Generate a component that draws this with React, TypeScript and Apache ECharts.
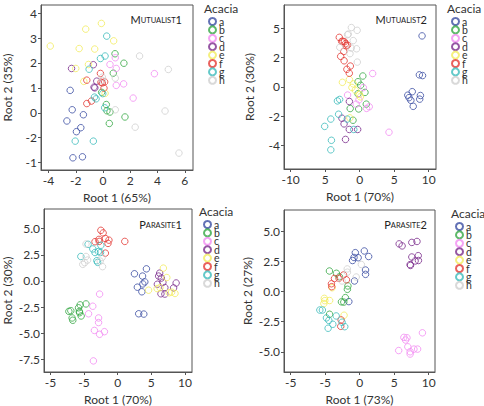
import React, { useEffect, useRef } from "react";
import * as echarts from "echarts";

const GROUPS = ["a", "b", "c", "d", "e", "f", "g", "h"];
const COLORS = ["#3b4ea3", "#35a843", "#f28cf2", "#7a2c8c", "#f3ec5e", "#e33a35", "#3cbcbc", "#cfcfcf"];
const FONT = "Lato";

// ---------- Mutualist1 ----------
const M1_A = [[-2.41, 0.9], [-2.26, 0.12], [-1.44, -0.08], [-2.65, -0.33], [-1.63, -0.6], [-1.95, -0.76], [-2.21, -1.81], [-1.51, -1.77]];
const M1_B = [[0.88, 2.37], [1.53, 1.99], [0.75, 1.59], [-0.1, 0.82], [0.24, 0.33], [0.29, 0.08], [0.51, 0.03], [1.61, -0.17], [0.46, -0.43]];
const M1_C = [[0.9, 2.21], [0.51, 1.94], [0.97, 1.78], [3.77, 1.57], [1.51, 1.16], [0.97, 1.1], [2.21, 0.59]];
const M1_D = [[-2.31, 1.78], [-0.71, 1.93], [-0.46, 1.27], [-0.66, 1.03], [-0.6, 1.0]];
const M1_E = [[-3.87, 2.68], [-1.27, 3.36], [-0.12, 3.59], [-1.75, 2.58], [-0.61, 2.56], [0.78, 2.89], [-1.07, 1.94], [-2.0, 1.78], [-1.41, 1.26], [0.15, 0.78]];
const M1_F = [[-0.19, 1.58], [-1.19, 1.31], [-0.15, 1.23], [0.12, 1.24], [-0.05, 1.2], [0.07, 0.99], [-0.85, 0.47], [-1.19, 0.37]];
const M1_G = [[0.27, 3.08], [-0.19, 2.18], [0.15, 2.28], [-1.02, 1.75], [-0.02, 0.77], [-0.63, 0.63], [-0.51, 0.56], [0.12, 0.2], [-2.04, -1.14], [-0.71, -1.14]];
const M1_H = [[2.68, 2.28], [4.79, 1.74], [-0.05, 1.43], [0.9, 1.39], [-0.05, 1.3], [0.9, 0.12], [4.55, 0.07], [2.36, -0.58], [5.57, -1.62]];

// ---------- Mutualist2 ----------
const M2_A = [[9.04, 3.48], [8.65, 0.82], [9.11, 0.77], [7.62, -0.33], [6.97, -0.57], [7.15, -0.74], [7.42, -0.92], [7.76, -1.33], [8.8, -0.59], [8.7, -0.84]];
const M2_B = [[0.46, 0.74], [-0.24, 0.35], [0.14, 0.11], [-0.24, -0.47], [0.77, -0.38], [0.96, -1.18], [-1.37, -1.48], [-0.14, -1.51], [-0.96, -2.28]];
const M2_C = [[1.88, 0.91], [0.53, -0.05], [-1.75, -0.56], [-0.1, -0.88], [-0.5, -1.18], [1.0, -1.47], [1.39, -1.36], [4.25, -3.1]];
const M2_D = [[-1.49, -1.0], [-2.57, -2.14], [-2.26, -2.53], [-1.5, -2.91], [-0.29, -2.91], [-2.05, -3.59]];
const M2_E = [[-2.5, 0.31], [-1.49, 0.5], [-0.92, 0.2], [-1.12, -0.04], [-0.63, -0.23], [-0.05, -0.52], [0.1, -0.68], [-1.42, -2.12]];
const M2_F = [[-2.95, 3.38], [-2.45, 3.12], [-2.2, 3.08], [-2.6, 3.1], [-2.05, 2.95], [-1.75, 2.85], [-1.95, 2.8], [-2.3, 2.42], [-2.75, 2.08], [-2.25, 1.78], [-1.35, 1.42], [-1.85, 1.2], [-1.5, 0.93]];
const M2_G = [[-3.22, -0.96], [-2.9, -0.86], [-3.05, -1.87], [-4.18, -2.2], [-5.07, -2.7], [-1.8, -2.2], [-0.85, -2.91], [-4.09, -3.65], [-4.18, -4.3]];
const M2_H = [[-1.2, 4.05], [-0.36, 3.86], [-1.75, 3.56], [-1.65, 3.6], [-0.93, 3.16], [-2.88, 2.7], [-1.22, 2.65], [-0.45, 2.6], [-1.4, 2.27], [-0.34, 1.69]];

// ---------- Parasite1 ----------
const P1_A = [[4.28, 1.16], [2.5, 0.69], [3.7, 0.47], [4.04, -0.09], [3.75, -0.28], [2.93, -0.59], [3.6, -1.03], [3.13, -3.13], [3.89, -3.16]];
const P1_B = [[-7.26, -2.9], [-6.97, -2.84], [-5.82, -2.56], [-5.58, -2.28], [-4.71, -2.19], [-5.67, -3.03], [-5.43, -3.34], [-6.78, -3.53], [-6.68, -3.75], [-5.7, -2.9]];
const P1_C = [[-2.69, -1.25], [-3.7, -2.41], [-4.33, -3.13], [-2.84, -3.53], [-2.84, -3.97], [-3.46, -4.72], [-2.69, -5.09], [-1.97, -4.84], [-3.61, -7.63]];
const P1_D = [[6.25, 0.75], [6.1, 0.47], [6.49, 0.28], [6.73, -0.12], [5.91, -0.31], [8.7, -0.19], [8.32, -0.66], [6.44, -1.22], [7.02, -1.25], [7.02, -0.63]];
const P1_E = [[6.8, 1.23], [7.31, 0.33], [4.6, -0.88], [5.87, -0.72], [6.3, -0.63], [7.67, -1.12], [8.03, -1.06], [8.53, -1.19]];
const P1_F = [[-2.5, 4.84], [-2.16, 4.59], [-2.79, 3.97], [-1.83, 4.06], [-1.3, 3.9], [-1.44, 3.59], [-2.75, 3.78], [-3.37, 3.75], [-1.83, 2.66], [1.06, 3.78]];
const P1_G = [[-4.4, 3.5], [-2.5, 3.41], [-3.7, 3.06], [-3.37, 2.72], [-2.88, 2.81], [-2.55, 2.72], [-5.48, 2.34], [-3.1, 1.94], [-2.98, 1.78]];
const P1_H = [[-4.71, 3.53], [-4.71, 2.34], [-4.47, 2.0], [-5.19, 1.59], [-4.9, 1.75], [-2.31, 2.25], [-2.6, 1.9], [-2.25, 1.37]];

// ---------- Parasite2 ----------
const P2_A = [[-0.63, 3.22], [0.67, 3.36], [-0.82, 2.82], [-0.22, 2.8], [-1.03, 2.57], [1.3, 2.9], [0.85, 1.78], [0.85, 1.42], [-0.75, 0.87], [-1.57, -0.84]];
const P2_B = [[-4.38, 1.7], [-3.37, 1.51], [-2.93, 1.22], [-1.7, 0.46], [-1.78, 0.18], [-2.07, -0.51], [-2.64, -0.86], [-2.3, -0.88], [-4.36, -1.89]];
const P2_C = [[9.09, -3.43], [6.4, -3.81], [6.85, -3.84], [6.65, -4.03], [6.97, -4.59], [7.86, -4.78], [8.39, -4.78], [7.31, -5.0], [7.31, -5.19], [5.65, -4.9]];
const P2_D = [[5.72, 3.95], [6.15, 3.78], [7.55, 4.07], [8.3, 4.15], [8.48, 2.97], [7.55, 2.86], [8.03, 2.53], [8.51, 2.57], [7.31, 2.23], [7.36, 2.16]];
const P2_E = [[-5.12, -0.57], [-5.19, -1.0], [-4.35, -0.75], [-3.99, 0.31], [-2.26, -1.97], [-5.05, -0.76]];
const P2_F = [[-2.34, 1.37], [-3.65, 1.08], [-3.0, 1.1], [-1.92, 0.97], [-4.09, 0.64], [-4.05, 0.4], [-2.69, -2.36], [-2.74, -2.89]];
const P2_G = [[-5.77, -1.54], [-5.4, -1.54], [-4.81, -2.19], [-4.47, -2.4], [-3.89, -2.72], [-4.57, -3.05], [-3.4, -2.03], [-2.55, -2.55], [-2.16, -2.92]];
const P2_H = [[0.24, 2.24], [-1.8, 1.87], [-0.5, 1.2], [-2.55, 0.87], [-1.78, 1.6]];

// ---------- Tick values and labels ----------
const M1_XTICKS = [-4, -2, 0, 2, 4, 6];
const M1_XLABELS = ["-4", "-2", "0", "2", "4", "6"];
const M1_YTICKS = [4, 3, 2, 1, 0, -1, -2];
const M1_YLABELS = ["4", "3", "2", "1", "0", "-2", "-1"];
const M2_XTICKS = [-10, -5, 0, 5, 10];
const M2_XLABELS = ["-10", "5", "0", "5", "10"];
const M2_YTICKS = [4, 2, 0, -2, -4];
const M2_YLABELS = ["5", "2", "0", "-2", "-4"];
const P_XTICKS = [-10, -5, 0, 5, 10];
const P_XLABELS = ["-5", "-5", "0", "5", "10"];
const P1_YTICKS = [5, 2.5, 0, -2.5, -5, -7.5];
const P1_YLABELS = ["5.0", "2.5", "0.0", "-2.5", "-5.0", "-7.5"];
const P2_YTICKS = [5, 2.5, 0, -2.5, -5];
const P2_YLABELS = ["5.0", "2.5", "0.0", "-2.5", "-5.0"];

const PANELS = [
  {
    title: ["M", "UTUALIST", "1"],
    data: [M1_A, M1_B, M1_C, M1_D, M1_E, M1_F, M1_G, M1_H],
    grid: { left: 39, top: 5, width: 154, height: 165 },
    xr: [-4.55, 6.6], yr: [-2.3, 4.33],
    xt: M1_XTICKS, xl: M1_XLABELS, yt: M1_YTICKS, yl: M1_YLABELS,
    xname: "Root 1 (65%)", yname: "Root 2 (35%)",
    titlePos: [182, 13], legendPos: [204, 2], yGap: 28,
  },
  {
    title: ["M", "UTUALIST", "2"],
    data: [M2_A, M2_B, M2_C, M2_D, M2_E, M2_F, M2_G, M2_H],
    grid: { left: 284, top: 5, width: 152, height: 164 },
    xr: [-10.96, 11.06], yr: [-5.61, 5.59],
    xt: M2_XTICKS, xl: M2_XLABELS, yt: M2_YTICKS, yl: M2_YLABELS,
    xname: "Root 1 (70%)", yname: "Root 2 (30%)",
    titlePos: [427, 13], legendPos: [447, 2], yGap: 29,
  },
  {
    title: ["P", "ARASITE", "1"],
    data: [P1_A, P1_B, P1_C, P1_D, P1_E, P1_F, P1_G, P1_H],
    grid: { left: 39, top: 209, width: 153, height: 166 },
    xr: [-10.96, 11.06], yr: [-8.69, 6.875],
    xt: P_XTICKS, xl: P_XLABELS, yt: P1_YTICKS, yl: P1_YLABELS,
    xname: "Root 1 (70%)", yname: "Root 2 (30%)",
    titlePos: [182, 218], legendPos: [199, 205], yGap: 31,
  },
  {
    title: ["P", "ARASITE", "2"],
    data: [P2_A, P2_B, P2_C, P2_D, P2_E, P2_F, P2_G, P2_H],
    grid: { left: 284, top: 210, width: 151, height: 165 },
    xr: [-10.96, 10.91], yr: [-6.68, 6.76],
    xt: P_XTICKS, xl: P_XLABELS, yt: P2_YTICKS, yl: P2_YLABELS,
    xname: "Root 1 (73%)", yname: "Root 2 (27%)",
    titlePos: [427, 218], legendPos: [451, 207], yGap: 31,
  },
];

function labelFor(ticks: number[], labels: string[]) {
  return (v: number) => {
    const i = ticks.findIndex((t) => Math.abs(t - v) < 1e-6);
    return i >= 0 ? labels[i] : "";
  };
}

const AXIS_COLOR = "#555";
const TEXT_COLOR = "#333";

export default function App() {
  const ref = useRef<HTMLDivElement>(null);
  useEffect(() => {
    if (!ref.current) return;
    const chart = echarts.init(ref.current, null, { renderer: "svg" });
    const grids: any[] = [];
    const xAxes: any[] = [];
    const yAxes: any[] = [];
    const series: any[] = [];
    const legends: any[] = [];
    const graphics: any[] = [];

    PANELS.forEach((p, i) => {
      grids.push({ ...p.grid, show: true, borderColor: AXIS_COLOR, borderWidth: 1, containLabel: false });
      const common = {
        gridIndex: i,
        type: "value",
        nameLocation: "middle",
        nameTextStyle: { fontSize: 12, color: TEXT_COLOR, fontFamily: FONT },
        axisLine: { show: true, onZero: false, lineStyle: { color: AXIS_COLOR, width: 1 } },
        splitLine: { show: false },
      };
      xAxes.push({
        ...common,
        min: p.xr[0], max: p.xr[1],
        name: p.xname, nameGap: 21,
        axisTick: { show: true, length: 3, customValues: p.xt, lineStyle: { color: AXIS_COLOR } },
        axisLabel: { customValues: p.xt, formatter: labelFor(p.xt, p.xl), fontSize: 12, color: TEXT_COLOR, fontFamily: FONT, margin: 4 },
      });
      yAxes.push({
        ...common,
        min: p.yr[0], max: p.yr[1],
        name: p.yname, nameGap: p.yGap,
        axisTick: { show: true, length: 3, customValues: p.yt, lineStyle: { color: AXIS_COLOR } },
        axisLabel: { customValues: p.yt, formatter: labelFor(p.yt, p.yl), fontSize: 12, color: TEXT_COLOR, fontFamily: FONT, margin: 4 },
      });
      p.data.forEach((d, g) => {
        series.push({
          type: "scatter",
          name: GROUPS[g],
          xAxisIndex: i,
          yAxisIndex: i,
          data: d,
          symbol: "circle",
          symbolSize: 6.5,
          itemStyle: { color: "rgba(0,0,0,0)", borderColor: COLORS[g], borderWidth: 1 },
          emphasis: { disabled: true },
        });
      });
      legends.push({
        data: GROUPS,
        orient: "vertical",
        left: p.legendPos[0] + 4,
        top: p.legendPos[1] + 14,
        icon: "circle",
        itemWidth: 7,
        itemHeight: 7,
        itemGap: -2.6,
        padding: 0,
        selectedMode: false,
        textStyle: { fontSize: 10.5, lineHeight: 7, color: TEXT_COLOR, fontFamily: FONT, padding: [0, 0, 0, -2] },
      });
      graphics.push({
        type: "text",
        x: p.legendPos[0],
        y: p.legendPos[1],
        style: { text: "Acacia", fontSize: 12, fontFamily: FONT, fill: TEXT_COLOR },
      });
      graphics.push({
        type: "text",
        x: p.titlePos[0],
        y: p.titlePos[1],
        style: {
          text: `{a|${p.title[0]}}{b|${p.title[1]}}{a|${p.title[2]}}`,
          align: "right",
          verticalAlign: "top",
          fill: "#222",
          rich: {
            a: { fontSize: 11, lineHeight: 12, verticalAlign: "bottom", fontFamily: FONT, fill: "#222" },
            b: { fontSize: 7.5, lineHeight: 12, verticalAlign: "bottom", padding: [0, 0, 1, 0], fontFamily: FONT, fill: "#222" },
          },
        },
      });
    });

    chart.setOption({
      animation: false,
      backgroundColor: "#fff",
      grid: grids,
      xAxis: xAxes,
      yAxis: yAxes,
      legend: legends,
      series,
      graphic: graphics,
    });
    return () => chart.dispose();
  }, []);
  return <div ref={ref} style={{ position: "absolute", left: 0, top: 0, width: 484, height: 406 }} />;
}
